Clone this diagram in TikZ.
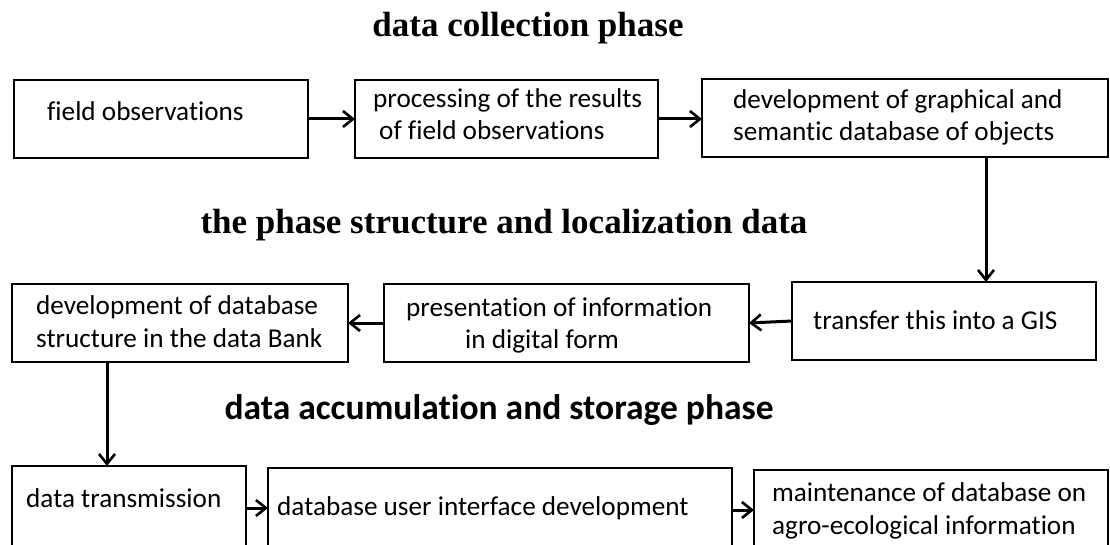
\documentclass[tikz,border=0pt]{standalone}
\usepackage{fontspec}
\setmainfont{Carlito}[Ligatures={NoCommon,NoRare,NoContextual}]
\newfontfamily\titleserif{Liberation Serif}
\usetikzlibrary{arrows.meta}
\tikzset{
  box/.style={draw,line width=1.5pt,anchor=north west,inner sep=0pt,outer sep=0pt},
  txt/.style={anchor=base west,inner sep=0pt,font=\fontsize{27.2}{32}\selectfont},
  ttl/.style={anchor=base,inner sep=0pt},
  arr/.style={draw,line width=3pt,-{Straight Barb[length=10pt,width=16pt,line width=2.6pt]}}
}
\begin{document}
\begin{tikzpicture}[x=1pt,y=-1pt]
\useasboundingbox (0,0) rectangle (1110,545);
\clip (0,0) rectangle (1110,545);
\fill[white] (0,0) rectangle (1110,545);
% titles
\node[ttl,font=\titleserif\bfseries\fontsize{35}{40}\selectfont] (h1) at (528,37) {data collection phase};
\node[ttl,font=\titleserif\bfseries\fontsize{35}{40}\selectfont] (h2) at (504,234) {the phase structure and localization data};
\node[ttl,font=\bfseries\fontsize{35.5}{40}\selectfont] (h3) at (499,419) {data accumulation and storage phase};
% boxes
\node[box,minimum width=294pt,minimum height=78pt] (b1) at (14,80) {};
\node[box,minimum width=303pt,minimum height=78pt] (b2) at (355,80) {};
\node[box,minimum width=406pt,minimum height=78pt] (b3) at (702,79) {};
\node[box,minimum width=304pt,minimum height=78pt] (b4) at (792,282) {};
\node[box,minimum width=365pt,minimum height=78pt] (b5) at (384,284) {};
\node[box,minimum width=336pt,minimum height=78pt] (b6) at (12,284) {};
\node[box,minimum width=234pt,minimum height=100pt] (b7) at (12,466) {};
\node[box,minimum width=464pt,minimum height=100pt] (b8) at (268,468) {};
\node[box,minimum width=354pt,minimum height=100pt] (b9) at (754,470) {};
% texts
\node[txt] (t1) at (47,121) {field observations};
\node[txt] (t2a) at (373,108) {processing of the results};
\node[txt] (t2b) at (379,140) {of field observations};
\node[txt] (t3a) at (733,109) {development of graphical and};
\node[txt] (t3b) at (733,141) {semantic database of objects};
\node[txt] (t4) at (813,329) {transfer this into a GIS};
\node[txt] (t5a) at (406,316) {presentation of information};
\node[txt] (t5b) at (465,348) {in digital form};
\node[txt] (t6a) at (36,314) {development of database};
\node[txt] (t6b) at (36,347) {structure in the data Bank};
\node[txt] (t7) at (26,507) {data transmission};
\node[txt] (t8) at (277,515) {database user interface development};
\node[txt] (t9a) at (772,501) {maintenance of database on};
\node[txt] (t9b) at (772,534) {agro-ecological information};
% connectors
\coordinate (vx1) at (986,0);
\coordinate (vx2) at (107,0);
\coordinate (hy0) at (0,119);
\coordinate (hy1) at (0,508);
\coordinate (hy2) at (0,510);
\draw[arr] (b1.east |- hy0) -- (b2.west |- hy0);
\draw[arr] (b2.east |- hy0) -- (b3.west |- hy0);
\draw[arr] (vx1 |- b3.south) -- (vx1 |- b4.north);
\draw[arr] (b4.west) -- (b5.east);
\draw[arr] (b5.west) -- (b6.east);
\draw[arr] (vx2 |- b6.south) -- (vx2 |- b7.north);
\draw[arr] (b7.east |- hy1) -- (b8.west |- hy1);
\draw[arr] (b8.east |- hy2) -- (b9.west |- hy2);
\end{tikzpicture}
\end{document}
